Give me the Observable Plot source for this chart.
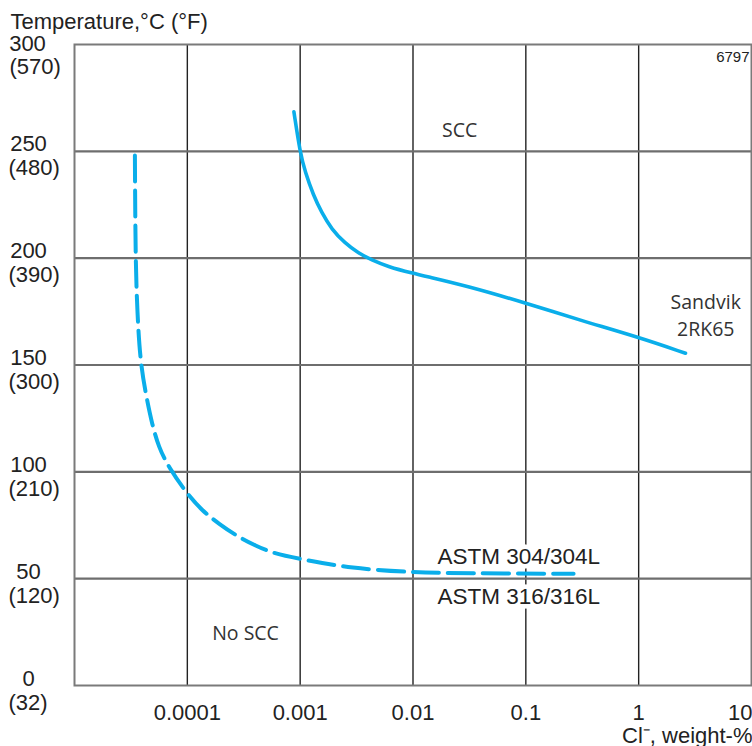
<!DOCTYPE html>
<html>
<head>
<meta charset="utf-8">
<script src="https://cdn.jsdelivr.net/npm/d3@7"></script>
<script src="https://cdn.jsdelivr.net/npm/@observablehq/plot@0.6"></script>
<style>
  html, body { margin: 0; padding: 0; background: #fff; }
</style>
</head>
<body>
<div id="chart"></div>
<script>
// X ticks (chloride, weight-%)
const xTicks = [1e-4, 1e-3, 1e-2, 0.1, 1, 10];
const xTickLabels = ["0.0001", "0.001", "0.01", "0.1", "1", "10"];
// Y ticks (°C and °F)
const yTicksC = [0, 50, 100, 150, 200, 250, 300];
const yTicksF = ["(32)", "(120)", "(210)", "(300)", "(390)", "(480)", "(570)"];

// Sandvik 2RK65 curve: chloride (%) and temperature (°C)
const sandvikCl = [0.00088, 0.001, 0.001106, 0.00131, 0.00155, 0.0019, 0.00249, 0.00327, 0.00429, 0.00601, 0.01, 0.0135, 0.03, 0.1, 0.3, 1, 2.6];
const sandvikT  = [268.5, 249.2, 240.5, 229.4, 221.4, 213.5, 207.1, 202.4, 199.2, 196.0, 192.9, 191.3, 187, 179, 171, 163, 155.5];

// ASTM 304/304L, 316/316L curve
const astmCl = [3.43e-5, 3.47e-5, 3.6e-5, 3.83e-5, 4.40e-5, 4.86e-5, 5.57e-5, 6.83e-5, 9.93e-5, 1.35e-4, 1.90e-4, 2.85e-4, 4.01e-4, 5.78e-4, 1.05e-3, 2.79e-3, 0.0101, 0.03, 0.265];
const astmT  = [248, 200, 175, 150.7, 133.4, 122.6, 111.5, 102.2, 89.7, 81.9, 75.7, 69.4, 65.5, 61.8, 59, 54.8, 52.9, 52.5, 52.3];

// Annotations (data coordinates)
const regionLabels = ["SCC", "No SCC", "Sandvik", "2RK65"];
const regionCl = [0.0259, 3.28e-4, 3.93, 3.93];
const regionT  = [259.7, 24.3, 179.0, 166.4];
const astmLabels = ["ASTM 304/304L", "ASTM 316/316L"];
const astmLabelCl = [0.0165, 0.0165];
const astmLabelT  = [60.4, 41.6];

const sandvik = sandvikCl.map((c, i) => ({cl: c, t: sandvikT[i]}));
const astm = astmCl.map((c, i) => ({cl: c, t: astmT[i]}));
const regions = regionLabels.map((s, i) => ({s, cl: regionCl[i], t: regionT[i]}));
const astmAnn = astmLabels.map((s, i) => ({s, cl: astmLabelCl[i], t: astmLabelT[i]}));

const BLUE = "#0aaeea";
const SANS = "'Liberation Sans', Arial, Helvetica, sans-serif";
const HUM = "'Open Sans', 'Noto Sans', sans-serif";
const TXT = "#222";

const plot = Plot.plot({
  width: 752,
  height: 746,
  marginLeft: 74,
  marginRight: 1,
  marginTop: 44,
  marginBottom: 61,
  style: {background: "#fff", fontFamily: SANS, overflow: "visible"},
  x: {type: "log", domain: [1e-5, 10], axis: null},
  y: {domain: [0, 300], axis: null},
  marks: [
    Plot.ruleX(xTicks.slice(0, -1), {stroke: "#222", strokeWidth: 1.4}),
    Plot.ruleY(yTicksC.slice(1, -1), {stroke: "#6e6e6e", strokeWidth: 2.2}),
    Plot.frame({stroke: "#7a7a7a", strokeWidth: 2}),
    // ASTM labels with white halo (covers the grid behind them)
    Plot.text(astmAnn, {x: "cl", y: "t", text: "s", textAnchor: "start", fontSize: 22.5,
      fontFamily: SANS, fill: TXT, stroke: "#fff", strokeWidth: 9, paintOrder: "stroke"}),
    Plot.line(sandvik, {x: "cl", y: "t", stroke: BLUE, strokeWidth: 3.6, curve: "basis"}),
    Plot.line(astm, {x: "cl", y: "t", stroke: BLUE, strokeWidth: 4, curve: "basis",
      strokeDasharray: "26,9"}),
    // X tick labels
    Plot.text(xTicks.slice(0, -1), {x: Plot.identity, text: (d, i) => xTickLabels[i],
      frameAnchor: "bottom", lineAnchor: "middle", dy: 27, fontSize: 22, fill: TXT, fontFamily: SANS}),
    Plot.text(xTicks.slice(-1), {x: Plot.identity, text: () => xTickLabels[xTickLabels.length - 1],
      frameAnchor: "bottom", lineAnchor: "middle", dy: 27, dx: 1, textAnchor: "end", fontSize: 22, fill: TXT, fontFamily: SANS}),
    // Y tick labels °C
    Plot.text(yTicksC.slice(0, -1), {y: Plot.identity, text: d => String(d),
      frameAnchor: "left", dx: -46, dy: -7, textAnchor: "middle", fontSize: 22, fill: TXT, fontFamily: SANS}),
    Plot.text(yTicksC.slice(-1), {y: Plot.identity, text: d => String(d),
      frameAnchor: "left", dx: -47, dy: -0.5, textAnchor: "middle", fontSize: 22, fill: TXT, fontFamily: SANS}),
    // Y tick labels °F
    Plot.text(yTicksC.slice(0, -1), {y: Plot.identity, text: (d, i) => yTicksF[i],
      frameAnchor: "left", dx: -66, dy: 17, textAnchor: "start", fontSize: 22, fill: TXT, fontFamily: SANS}),
    Plot.text(yTicksC.slice(-1), {y: Plot.identity, text: () => yTicksF[yTicksF.length - 1],
      frameAnchor: "left", dx: -65, dy: 22, textAnchor: "start", fontSize: 22, fill: TXT, fontFamily: SANS}),
    // Axis titles
    Plot.text(["Temperature,°C (°F)"], {frameAnchor: "top-left", lineAnchor: "middle", text: d => d, dx: -64, dy: -23,
      textAnchor: "start", fontSize: 22, fill: TXT, fontFamily: SANS}),
    Plot.text(["Cl⁻, weight-%"], {frameAnchor: "bottom-right", lineAnchor: "middle", text: d => d, dx: 1, dy: 50,
      textAnchor: "end", fontSize: 22, fill: TXT, fontFamily: SANS}),
    Plot.text(["6797"], {frameAnchor: "top-right", lineAnchor: "middle", text: d => d, dx: -2, dy: 13,
      textAnchor: "end", fontSize: 15, fill: TXT, fontFamily: SANS}),
    // Region labels
    Plot.text(regions, {x: "cl", y: "t", text: "s", fontSize: 19.5, fill: "#333", fontFamily: HUM})
  ]
});
document.getElementById("chart").appendChild(plot);
</script>
</body>
</html>
